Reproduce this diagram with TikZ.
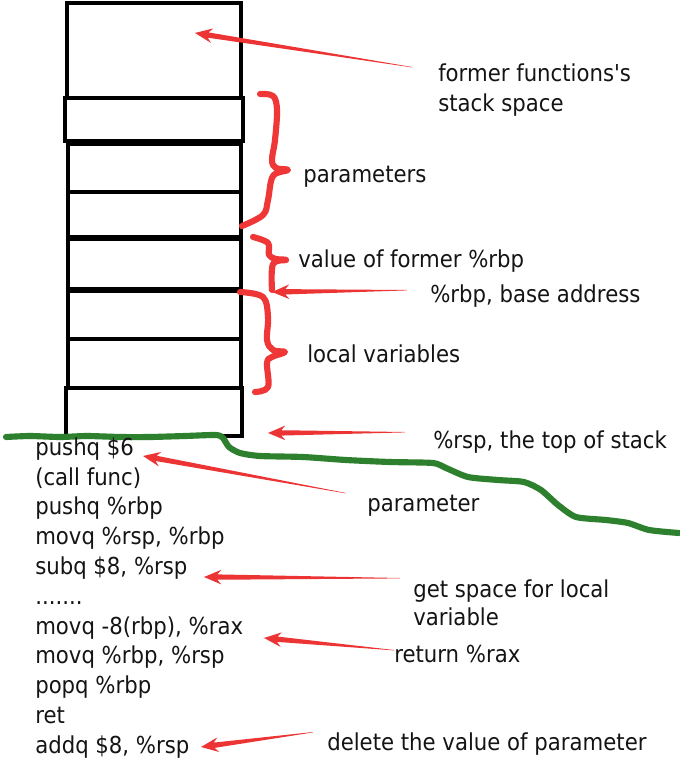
\documentclass[tikz,border=0pt]{standalone}
\usepackage{fontspec}
\setmainfont{DejaVu Sans}[FakeStretch=0.91,Ligatures=TeXOff]
\usetikzlibrary{calc}
\definecolor{arrowred}{RGB}{236,52,52}
\definecolor{bracered}{RGB}{240,55,55}
\definecolor{grassgreen}{RGB}{45,128,45}
\newcommand\redarrow[2]{%
  \fill[arrowred] let \p1=(#1),\p2=(#2),\n1={atan2(\y1-\y2,\x1-\x2)} in
    (#1) -- ($(#2)+(\n1:10pt)+(\n1+90:2pt)$) -- ($(#2)+(\n1:13pt)+(\n1+90:5.5pt)$)
    -- (#2) -- ($(#2)+(\n1:13pt)+(\n1-90:5.5pt)$) -- ($(#2)+(\n1:10pt)+(\n1-90:2pt)$)
    -- ($(#1)+(\n1-90:0.3pt)$) -- cycle;}
\begin{document}
\begin{tikzpicture}[x=0.75pt,y=-0.75pt,
  lbl/.style={anchor=base west,inner sep=0pt,font=\fontsize{17.5pt}{21pt}\selectfont,text=black!92},
  cell/.style={draw=black,line width=2.3pt},
  thickline/.style={draw=black,line width=3.8pt},
  brace/.style={draw=bracered,line width=4.6pt,line cap=round,line join=round},
  grass/.style={draw=grassgreen,line width=4.6pt,line cap=round,line join=round}]
\fill[white] (0,0) rectangle (679,759);
\useasboundingbox (0,0) rectangle (679,759);

% stack
\draw[cell] (67,3) rectangle (241,98);
\draw[cell] (65,98) rectangle (243,141);
\draw[cell] (68,141) -- (68,388);
\draw[cell] (241,141) -- (241,388);
\draw[thickline] (66,143) -- (243,143);
\draw[cell] (68,192) -- (241,192);
\draw[thickline] (66,238) -- (243,238);
\draw[thickline] (66,290) -- (243,290);
\draw[cell] (68,339) -- (241,339);
\draw[cell] (66,388) rectangle (242,436);

% green line
\draw[grass] plot[smooth,tension=0.4] coordinates {(6,437) (30,436) (60,437) (87,436) (120,437) (150,437) (185,436) (216,435) (223,438) (229,447) (240,453) (260,456) (303,457) (346,460) (390,462) (433,463) (446,468) (468,477) (498,480) (524,482) (541,490) (558,505) (576,517) (606,520) (628,523) (649,530) (679,533)};

% braces
\draw[brace] plot[smooth,tension=0.6] coordinates {(260,94) (273,96) (277,110) (275,140) (272,160) (276,168) (288,170) (273,176) (268,200) (263,215) (242,226)};
\draw[brace] plot[smooth,tension=0.6] coordinates {(253,237) (268,243) (269,255) (276,259) (286,260) (273,264) (272,290)};
\draw[brace] plot[smooth,tension=0.6] coordinates {(240,292) (263,297) (268,317) (267,340) (273,350) (285,352) (272,357) (267,363) (268,387) (255,392)};

% labels
\node[lbl] (former) at (438,82) {former functions's};
\node[lbl] (stackspace) at (438,112) {stack space};
\node[lbl] (params) at (303,183) {parameters};
\node[lbl] (oldrbp) at (298,267) {value of former \%rbp};
\node[lbl] (rbp) at (430,302) {\%rbp, base address};
\node[lbl] (locals) at (307,362) {local variables};
\node[lbl] (rsp) at (433,448) {\%rsp, the top of stack};
\node[lbl] (param) at (367,511) {parameter};
\node[lbl] (getspace) at (413,597) {get space for local};
\node[lbl] (variable) at (413,625) {variable};
\node[lbl] (ret) at (394,662) {return \%rax};
\node[lbl] (delete) at (327,750) {delete the value of parameter};

% code
\node[lbl] (c1) at (35,455) {pushq \$6};
\node[lbl] (c2) at (35,485) {(call func)};
\node[lbl] (c3) at (35,514) {pushq \%rbp};
\node[lbl] (c4) at (35,544) {movq \%rsp, \%rbp};
\node[lbl] (c5) at (35,574) {subq \$8, \%rsp};
\node[lbl] (c6) at (35,604) {.......};
\node[lbl] (c7) at (35,634) {movq -8(rbp), \%rax};
\node[lbl] (c8) at (35,663) {movq \%rbp, \%rsp};
\node[lbl] (c9) at (35,693) {popq \%rbp};
\node[lbl] (c10) at (35,723) {ret};
\node[lbl] (c11) at (35,753) {addq \$8, \%rsp};

% arrow endpoints
\coordinate (t1) at (412,67);   \coordinate (h1) at (195,33);
\coordinate (t2) at (407,290);  \coordinate (h2) at (272,292);
\coordinate (t3) at (405,432);  \coordinate (h3) at (268,433);
\coordinate (t4) at (346,493);  \coordinate (h4) at (143,456);
\coordinate (t5) at (400,578);  \coordinate (h5) at (204,577);
\coordinate (t6) at (394,650);  \coordinate (h6) at (264,638);
\coordinate (t7) at (313,732);  \coordinate (h7) at (201,747);
\redarrow{t1}{h1}
\redarrow{t2}{h2}
\redarrow{t3}{h3}
\redarrow{t4}{h4}
\redarrow{t5}{h5}
\redarrow{t6}{h6}
\redarrow{t7}{h7}
\end{tikzpicture}
\end{document}
